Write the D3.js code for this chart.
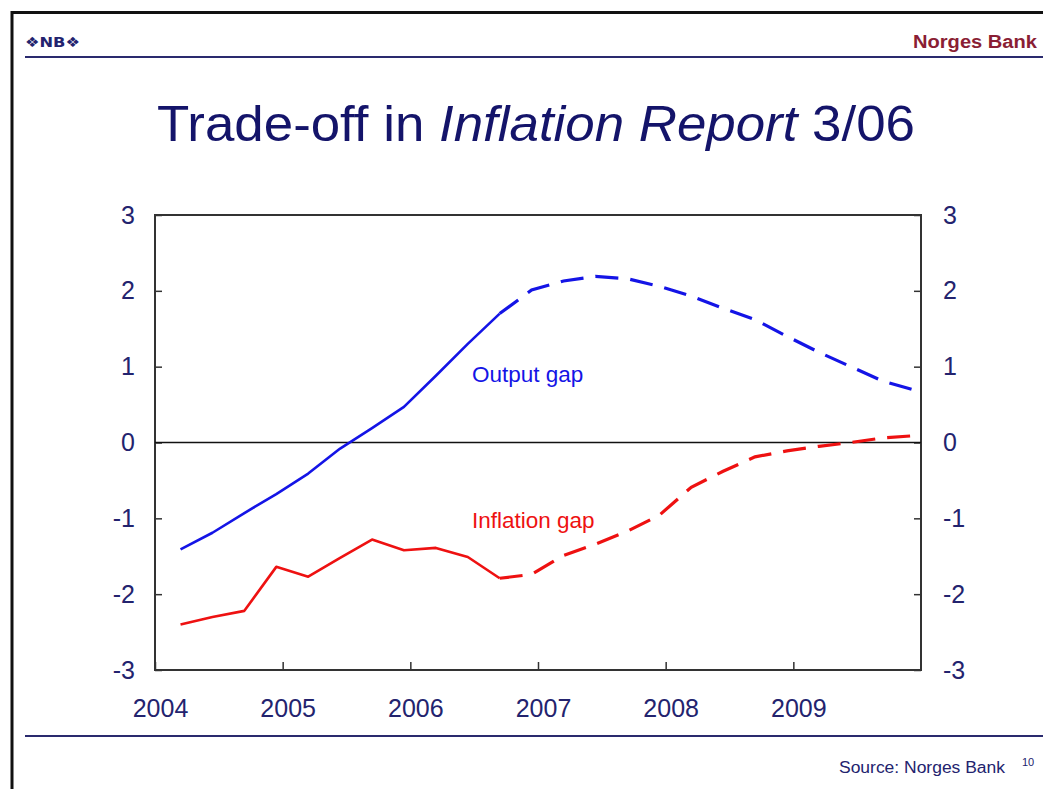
<!DOCTYPE html>
<html>
<head>
<meta charset="utf-8">
<script src="https://cdn.jsdelivr.net/npm/d3@7"></script>
<style>
  html, body { margin: 0; padding: 0; background: #fff; }
  svg { display: block; font-family: "Liberation Sans", Arial, sans-serif; }
</style>
</head>
<body>
<svg id="chart" width="1043" height="789"></svg>
<script>
// ---- Data (quarterly, 2004Q1 .. 2009Q4) ----
const quarters = [
  "2004Q1","2004Q2","2004Q3","2004Q4",
  "2005Q1","2005Q2","2005Q3","2005Q4",
  "2006Q1","2006Q2","2006Q3","2006Q4",
  "2007Q1","2007Q2","2007Q3","2007Q4",
  "2008Q1","2008Q2","2008Q3","2008Q4",
  "2009Q1","2009Q2","2009Q3","2009Q4"
];
const outputGap = [
  -1.41, -1.19, -0.93, -0.68,
  -0.41, -0.08,  0.19,  0.47,
   0.88,  1.30,  1.70,  2.01,
   2.13,  2.19,  2.16,  2.06,
   1.93,  1.77,  1.62,  1.40,
   1.19,  1.00,  0.81,  0.69
];
const inflationGap = [
  -2.40, -2.30, -2.22, -1.64,
  -1.77, -1.52, -1.28, -1.42,
  -1.39, -1.51, -1.79, -1.74,
  -1.49, -1.34, -1.17, -0.96,
  -0.59, -0.38, -0.19, -0.11,
  -0.05,  0.00,  0.06,  0.09
];
const lastObserved = "2006Q3";          // projections (dashed) start here
const yTicks = [-3, -2, -1, 0, 1, 2, 3];
const xTickYears = [2004, 2005, 2006, 2007, 2008, 2009];
const seriesNames = ["Output gap", "Inflation gap"];
const titleParts = [["Trade-off in ", "normal"], ["Inflation Report", "italic"], [" 3/06", "normal"]];

// ---- Layout ----
const svg = d3.select("#chart");
const M = { left: 155, right: 921, top: 215, bottom: 670 };
const navy = "#23236e";
const blue = "#1414e6";
const red = "#ee1111";

const x = d3.scaleLinear().domain([2004, 2010]).range([M.left, M.right]);
const y = d3.scaleLinear().domain([-3, 3]).range([M.bottom, M.top]);

// quarter label -> position (points placed within quarter)
const qPos = q => +q.slice(0, 4) + (+q.slice(5) - 1) / 4 + 0.2;
const fmtInt = d => String(d);   // plain hyphen-minus, as in the original

// ---- Slide frame ----
svg.append("line").attr("x1", 12).attr("x2", 1043).attr("y1", 12.5).attr("y2", 12.5)
  .attr("stroke", "#111").attr("stroke-width", 3);
svg.append("line").attr("x1", 12).attr("x2", 12).attr("y1", 11).attr("y2", 789)
  .attr("stroke", "#111").attr("stroke-width", 3);

// header
svg.append("text").attr("x", 25).attr("y", 47).attr("fill", navy)
  .attr("font-size", 14).attr("font-weight", "bold").attr("font-family", "DejaVu Sans")
  .attr("textLength", 55).attr("lengthAdjust", "spacingAndGlyphs")
  .text("\u2756NB\u2756");
svg.append("text").attr("x", 1037).attr("y", 48).attr("text-anchor", "end")
  .attr("fill", "#8a1e34").attr("font-size", 18).attr("font-weight", "bold")
  .attr("textLength", 124).attr("lengthAdjust", "spacingAndGlyphs")
  .text("Norges Bank");
svg.append("line").attr("x1", 25).attr("x2", 1043).attr("y1", 57).attr("y2", 57)
  .attr("stroke", "#2a2a6e").attr("stroke-width", 2);

// title
const title = svg.append("text").attr("x", 536).attr("y", 141).attr("text-anchor", "middle")
  .attr("fill", "#14146a").attr("font-size", 49);
titleParts.forEach(([t, s]) => title.append("tspan").attr("font-style", s).text(t));
{
  const w = title.node().getComputedTextLength();
  const target = 758;
  title.attr("transform", `translate(536,0) scale(${target / w},1) translate(-536,0)`);
}

// footer
svg.append("line").attr("x1", 25).attr("x2", 1043).attr("y1", 736).attr("y2", 736)
  .attr("stroke", "#2a2a6e").attr("stroke-width", 2);
svg.append("text").attr("x", 1005).attr("y", 773).attr("text-anchor", "end")
  .attr("fill", navy).attr("font-size", 16)
  .attr("textLength", 166).attr("lengthAdjust", "spacingAndGlyphs")
  .text("Source: Norges Bank");
svg.append("text").attr("x", 1022).attr("y", 766)
  .attr("fill", navy).attr("font-size", 11).text("10");

// ---- Axes ----
const axisColor = "#333";
function styleAxis(g) {
  g.select(".domain").remove();
  g.selectAll(".tick line").attr("stroke", axisColor).attr("stroke-width", 1.5);
  g.selectAll(".tick text").attr("fill", navy).attr("font-size", 25)
    .attr("font-family", "Liberation Sans, Arial, sans-serif");
}

svg.append("g").attr("transform", `translate(${M.left},0)`)
  .call(d3.axisLeft(y).tickValues(yTicks).tickSize(-7).tickPadding(20).tickFormat(fmtInt))
  .call(styleAxis);

svg.append("g").attr("transform", `translate(${M.right},0)`)
  .call(d3.axisRight(y).tickValues(yTicks).tickSize(-7).tickPadding(22).tickFormat(fmtInt))
  .call(styleAxis);

svg.append("g").attr("transform", `translate(0,${M.bottom})`)
  .call(d3.axisBottom(x).tickValues(xTickYears).tickSize(-8).tickPadding(29).tickFormat(fmtInt))
  .call(styleAxis)
  .selectAll(".tick text").attr("dx", 5);

// plot box
svg.append("rect").attr("x", M.left).attr("y", M.top)
  .attr("width", M.right - M.left).attr("height", M.bottom - M.top)
  .attr("fill", "none").attr("stroke", axisColor).attr("stroke-width", 2);

// zero line
svg.append("line").attr("x1", M.left).attr("x2", M.right).attr("y1", y(0)).attr("y2", y(0))
  .attr("stroke", "#111").attr("stroke-width", 1.5);

// ---- Lines ----
const cut = quarters.indexOf(lastObserved);
const line = d3.line().x(d => x(qPos(d.q))).y(d => y(d.v));

function drawSeries(vals, color) {
  const pts = quarters.map((q, i) => ({ q, v: vals[i] }));
  svg.append("path").datum(pts.slice(0, cut + 1)).attr("d", line)
    .attr("fill", "none").attr("stroke", color).attr("stroke-width", 2.6)
    .attr("stroke-linejoin", "round");
  svg.append("path").datum(pts.slice(cut)).attr("d", line)
    .attr("fill", "none").attr("stroke", color).attr("stroke-width", 3.2)
    .attr("stroke-dasharray", "23,12");
}
drawSeries(outputGap, blue);
drawSeries(inflationGap, red);

// ---- Labels ----
svg.append("text").attr("x", 472).attr("y", 382).attr("fill", blue)
  .attr("font-size", 22.5).text(seriesNames[0]);
svg.append("text").attr("x", 472).attr("y", 528).attr("fill", red)
  .attr("font-size", 22.5).text(seriesNames[1]);
</script>
</body>
</html>
